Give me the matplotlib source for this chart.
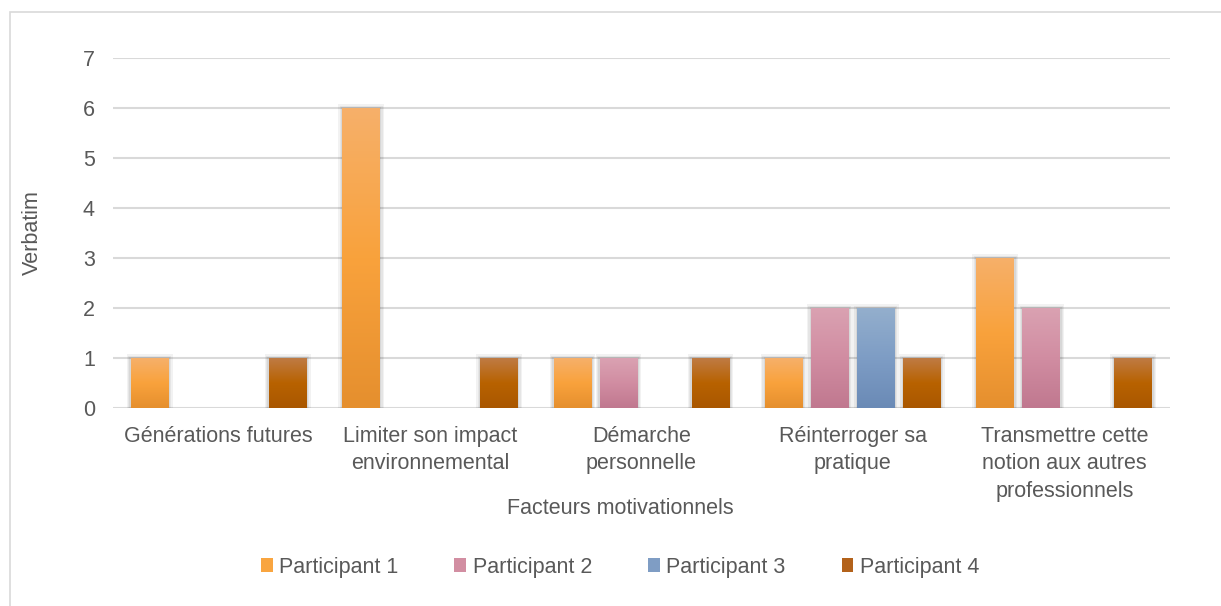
import numpy as np
import matplotlib.pyplot as plt
from matplotlib.colors import LinearSegmentedColormap
from matplotlib.patches import Rectangle

plt.rcParams['font.family'] = ['Liberation Sans', 'DejaVu Sans']

categories = ['Générations futures', 'Limiter son impact\nenvironnemental',
              'Démarche\npersonnelle', 'Réinterroger sa\npratique',
              'Transmettre cette\nnotion aux autres\nprofessionnels']
participants = ['Participant 1', 'Participant 2', 'Participant 3', 'Participant 4']
p1 = [1, 6, 1, 1, 3]
p2 = [0, 0, 1, 2, 2]
p3 = [0, 0, 0, 2, 0]
p4 = [1, 1, 1, 1, 1]
series = [p1, p2, p3, p4]

# gradient top -> middle -> bottom, Excel style
gradients = [('#F6B06A', '#F9A23C', '#E58F2E'),
             ('#DAA2B2', '#D18DA2', '#C0788F'),
             ('#94AFCD', '#7E9DC5', '#6A8AB6'),
             ('#BF7B44', '#B86200', '#A95700')]
legend_colors = ['#F9A540', '#D28EA2', '#7F9DC4', '#B3621B']

fs = 15.5
fig = plt.figure(figsize=(12.21, 6.06), dpi=100)
ax = fig.add_axes([113 / 1221, 1 - 408 / 606, (1170 - 113) / 1221, 350 / 606])

# outer chart border
fig.patches.append(Rectangle((10 / 1221, -0.02), 1.1, 1 - 12 / 606 + 0.02,
                             transform=fig.transFigure, fill=False,
                             edgecolor='#D9D9D9', linewidth=1.2, zorder=0))

slot = 46 / 211.4
width = 38 / 211.4
x = np.arange(len(categories))

for j, vals in enumerate(series):
    cmap = LinearSegmentedColormap.from_list('g%d' % j, gradients[j])
    grad = np.linspace(0, 1, 256).reshape(-1, 1)
    for i, v in enumerate(vals):
        if v <= 0:
            continue
        left = x[i] + (j - 1.5) * slot - width / 2
        # soft shadow
        for k, a in enumerate([0.05, 0.05, 0.06]):
            d = (3 - k) * 0.006
            ax.add_patch(Rectangle((left - d, -0.02), width + 2 * d, v + 0.02 + d * 4,
                                   facecolor='black', alpha=a, linewidth=0, zorder=2))
        bar = ax.bar(left, v, width, align='edge', color='none', zorder=3)[0]
        im = ax.imshow(grad, cmap=cmap, aspect='auto', zorder=3,
                       extent=(left, left + width, 0, v), origin='upper')
        im.set_clip_path(bar)

ax.set_xlim(-0.5, len(categories) - 0.5)
ax.set_ylim(0, 7)
ax.set_yticks(range(8))
ax.yaxis.grid(True, color='#D9D9D9', linewidth=1.5, zorder=0)
ax.set_axisbelow(True)
for s in ax.spines.values():
    s.set_visible(False)
ax.tick_params(length=0, colors='#595959', labelsize=fs)
ax.tick_params(axis='y', pad=13)
ax.set_xticks(x)
ax.set_xticklabels(categories, linespacing=1.4, va='top')
ax.tick_params(axis='x', pad=13)

ax.set_ylabel('Verbatim', fontsize=fs, color='#595959')
ax.yaxis.set_label_coords(-70 / 1057, 0.5)
ax.set_xlabel('Facteurs motivationnels', fontsize=fs, color='#595959')
ax.xaxis.set_label_coords((620 - 113) / 1057, -90 / 350)

handles = [Rectangle((0, 0), 1, 1, facecolor=c) for c in legend_colors]
fig.legend(handles, participants, loc='center', bbox_to_anchor=(620 / 1221, 1 - 567 / 606),
           ncol=4, frameon=False, fontsize=fs, handlelength=0.55, handleheight=0.6,
           handletextpad=0.3, columnspacing=2.6, labelcolor='#595959')

fig.savefig('out.png', dpi=100)
